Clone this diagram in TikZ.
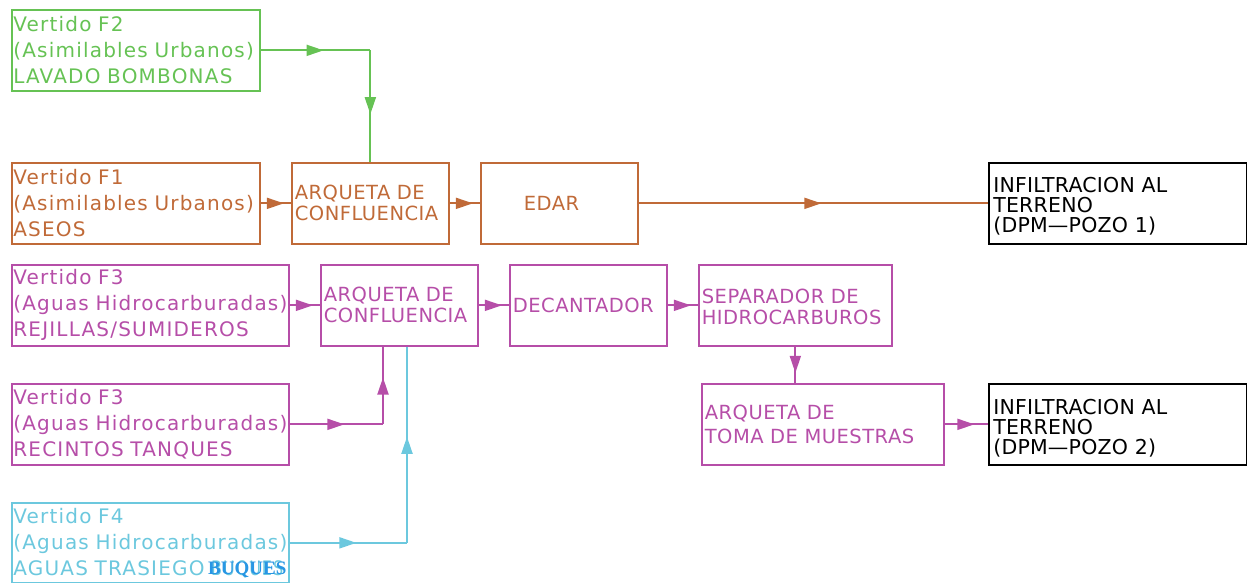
\documentclass[tikz,border=0pt]{standalone}
\usepackage{fontspec}
\setmainfont{DejaVu Sans}
\newfontfamily\cadfont[LetterSpace=6,WordSpace=1.6]{DejaVu Sans}
\newfontfamily\capfont[LetterSpace=2.5,WordSpace=1.6]{DejaVu Sans}
\newfontfamily\blkfont[LetterSpace=1,WordSpace=2.4]{DejaVu Sans}
\newfontfamily\serifb{Liberation Serif}
\usetikzlibrary{arrows.meta,decorations.markings}
\definecolor{cgreen}{RGB}{102,194,84}
\definecolor{corange}{RGB}{192,106,56}
\definecolor{cmag}{RGB}{182,78,168}
\definecolor{ccyan}{RGB}{108,200,222}
\definecolor{cblue}{RGB}{40,150,228}
\begin{document}
\begin{tikzpicture}[x=1pt,y=-1pt,
  box/.style={draw, rectangle, anchor=north west, inner xsep=1.5pt, inner ysep=0pt,
    align=left, line width=1.7pt, minimum height=81pt,
    font=\cadfont\fontsize{20}{26}\selectfont},
  inbox/.style={box, inner xsep=3pt, font=\capfont\fontsize{19.5}{21}\selectfont},
  blkbox/.style={box, inner xsep=4.5pt, font=\blkfont\fontsize{20.5}{20}\selectfont},
  flow/.style={line width=1.9pt, postaction={decorate},
    decoration={markings, mark=at position 0.5 with
      {\pgftransformxshift{8pt}\arrow{Triangle[length=17pt,width=11pt]}}}}
]
\useasboundingbox (0,0) rectangle (1247,583);

% boxes
\node[box, cgreen, text width=245pt] (F2) at (11,9) {Vertido F2\\\mbox{(Asimilables Urbanos)}\\LAVADO BOMBONAS};
\node[box, corange, text width=245pt] (F1) at (11,162) {Vertido F1\\\mbox{(Asimilables Urbanos)}\\ASEOS};
\node[inbox, corange, text width=151pt] (A1) at (291,162) {\mbox{ARQUETA DE}\\\mbox{CONFLUENCIA}};
\node[inbox, corange, text width=151pt] (ED) at (480,162) {\hspace*{40pt}EDAR};
\node[blkbox, black, text width=249pt] (I1) at (988,162) {\rule{0pt}{22pt}INFILTRACION AL\\TERRENO\\(DPM\textemdash POZO 1)};

\node[box, cmag, text width=274pt] (F3a) at (11,264) {Vertido F3\\\mbox{(Aguas Hidrocarburadas)}\\REJILLAS/SUMIDEROS};
\node[inbox, cmag, text width=151pt] (A2) at (320,264) {\mbox{ARQUETA DE}\\\mbox{CONFLUENCIA}};
\node[inbox, cmag, text width=151pt] (DC) at (509,264) {\mbox{DECANTADOR}};
\node[inbox, cmag, text width=187pt] (SP) at (698,264) {\rule{0pt}{18pt}\mbox{SEPARADOR DE}\\\mbox{HIDROCARBUROS}};
\node[box, cmag, text width=274pt] (F3b) at (11,383) {Vertido F3\\\mbox{(Aguas Hidrocarburadas)}\\RECINTOS TANQUES};
\node[inbox, cmag, text width=236pt, font=\capfont\fontsize{19.5}{24}\selectfont] (TM) at (701,383) {ARQUETA DE\\\mbox{TOMA DE MUESTRAS}\\[-4pt]};
\node[blkbox, black, text width=249pt] (I2) at (988,383) {\rule{0pt}{22pt}INFILTRACION AL\\TERRENO\\(DPM\textemdash POZO 2)};
\node[box, ccyan, text width=274pt, minimum height=80pt] (F4) at (11,502) {Vertido F4\\\mbox{(Aguas Hidrocarburadas)}\\\mbox{AGUAS TRASIEGO \scalebox{0.8}[1]{BUQUES}}};
\node[anchor=base west, inner sep=0pt, text=cblue,
  font=\serifb\bfseries\fontsize{19}{20}\selectfont] (BQ) at (208,574) {BUQUES};

% helper coordinates
\coordinate (x383) at (383,0);
\coordinate (x407) at (407,0);
\coordinate (g1) at (F2.east -| A1.north);

% connectors
\draw[cgreen, flow] (F2.east) -- (g1);
\draw[cgreen, flow] (g1) -- (A1.north);
\draw[corange, flow] (F1) -- (A1);
\draw[corange, flow] (A1) -- (ED);
\draw[corange, flow] (ED) -- (I1);

\draw[cmag, flow] (F3a) -- (A2);
\draw[cmag, flow] (A2) -- (DC);
\draw[cmag, flow] (DC) -- (SP);
\draw[cmag, flow] (SP.south) -- (SP.south |- TM.north);
\draw[cmag, flow] (TM) -- (I2);
\draw[cmag, flow] (F3b.east) -- (F3b.east -| x383);
\draw[cmag, flow] (F3b.east -| x383) -- (A2.south -| x383);
\draw[ccyan, flow] (F4.east) -- (F4.east -| x407);
\draw[ccyan, flow] (F4.east -| x407) -- (A2.south -| x407);
\end{tikzpicture}
\end{document}
